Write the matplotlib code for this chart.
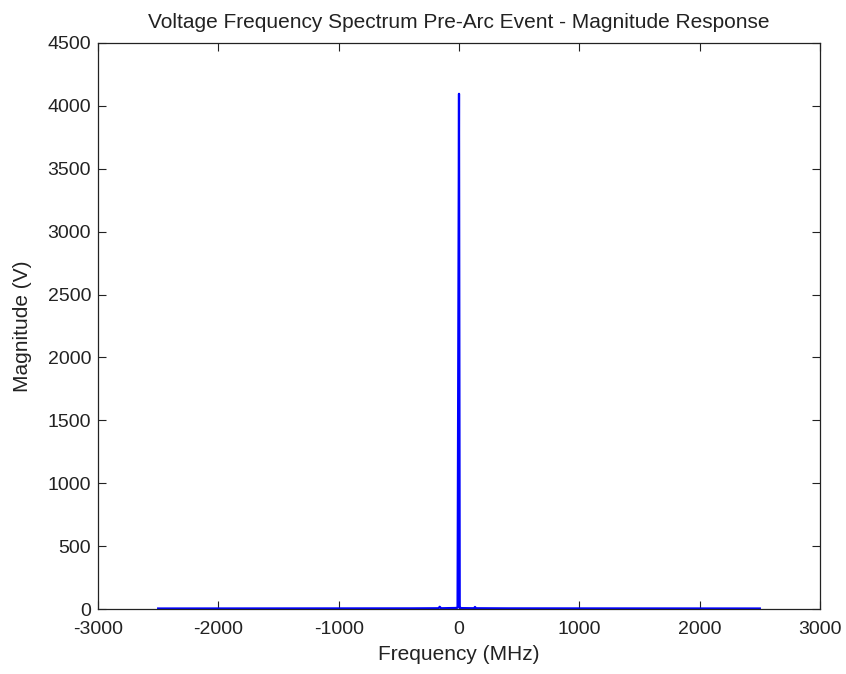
import matplotlib
matplotlib.use("Agg")
import matplotlib.pyplot as plt

# Magnitude spectrum samples (frequency in MHz, magnitude in V)
freq_mhz = [-2500, -400, -170, -160, -150, -30, -12, -6, 0, 6, 12, 30,
            125, 133, 141, 400, 2500]
magnitude_v = [4, 5, 6, 18, 6, 8, 10, 2048, 4096, 12, 8, 7,
               6, 16, 6, 5, 4]

x_ticks = [-3000, -2000, -1000, 0, 1000, 2000, 3000]
y_ticks = list(range(0, 4501, 500))

plt.rcParams["font.family"] = ["Liberation Sans", "DejaVu Sans"]
plt.rcParams["axes.unicode_minus"] = False

fig = plt.figure(figsize=(8.46, 6.74), dpi=100)
ax = fig.add_axes([98 / 846, 65 / 674, 722 / 846, 566 / 674])

ax.plot(freq_mhz, magnitude_v, color=(0, 0, 1), linewidth=1.6)

ax.set_xlim(-3000, 3000)
ax.set_ylim(0, 4500)
ax.set_xticks(x_ticks)
ax.set_yticks(y_ticks)
ax.tick_params(direction="in", top=True, right=True, length=6, width=0.8,
               labelsize=14, color="#222222", labelcolor="#222222")
ax.tick_params(axis="x", pad=9)
ax.tick_params(axis="y", pad=5)
for s in ax.spines.values():
    s.set_linewidth(0.9)
    s.set_color("#222222")

ax.set_title("Voltage Frequency Spectrum Pre-Arc Event - Magnitude Response",
             fontsize=15, pad=11, color="#222222")
ax.set_xlabel("Frequency (MHz)", fontsize=15, labelpad=5, color="#222222")
ax.set_ylabel("Magnitude (V)", fontsize=15, labelpad=11, color="#222222")

fig.savefig("out.png", dpi=100)
